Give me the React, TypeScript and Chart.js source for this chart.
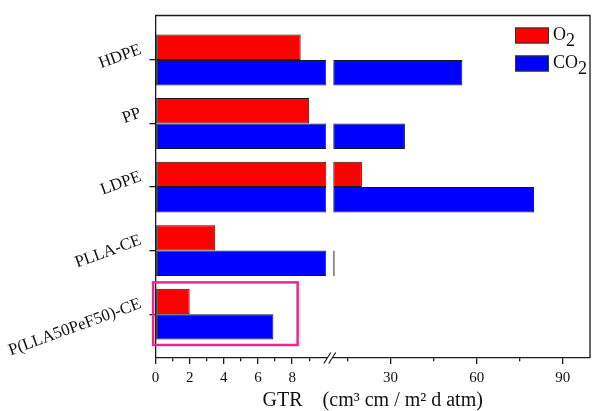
import React, { useEffect, useRef } from 'react';
import { Chart, registerables } from 'chart.js';

Chart.register(...registerables);

// ---- data ----
const categories = ['HDPE', 'PP', 'LDPE', 'PLLA-CE', 'P(LLA50PeF50)-CE'];
const seriesNames = ['O2', 'CO2'];
const o2Values = [8.5, 9.0, 20, 3.5, 2.0];
const co2Values = [55, 35, 80, 10.5, 6.9];
const seriesColors = ['#ff0000', '#0000ff'];
const breakValue = 10;
const lowMax = breakValue;
const highMax = 99.5;
const lowTicks = [0, 1, 2, 3, 4, 5, 6, 7, 8, 9];
const lowLabels = [0, 2, 4, 6, 8];
const highTicks = [15, 30, 45, 60, 75, 90];
const highLabels = [30, 60, 90];
const xTitle = 'GTR    (cm\u00B3 cm / m\u00B2 d atm)';
const highlightCategory = 'P(LLA50PeF50)-CE';
const highlightRange = [-0.14, 8.32];

const FONT = '"Liberation Serif", "Times New Roman", serif';
const INK = '#1a1a1a';

const lowPart = (v: number) => Math.min(v, breakValue);
const highPart = (v: number) => (v > breakValue ? [breakValue, v] : null);

const framePlugin = {
  id: 'frameAndExtras',
  afterDatasetsDraw(chart: any) {
    const { ctx, scales } = chart;
    ctx.save();
    const idx = categories.indexOf(highlightCategory);
    const x1 = scales.x1;
    const y = scales.y;
    const l = x1.getPixelForValue(highlightRange[0]);
    const r = x1.getPixelForValue(highlightRange[1]);
    const t = y.getPixelForValue(idx - 0.5);
    const b = y.getPixelForValue(idx + 0.485);
    ctx.strokeStyle = '#e8288a';
    ctx.lineWidth = 2.5;
    ctx.strokeRect(l, t, r - l, b - t);
    ctx.restore();
  },
  afterDraw(chart: any) {
    const { ctx, chartArea, scales } = chart;
    ctx.save();
    ctx.strokeStyle = INK;
    ctx.lineWidth = 1.3;
    ctx.beginPath();
    ctx.moveTo(chartArea.left, chartArea.top);
    ctx.lineTo(chartArea.right, chartArea.top);
    ctx.lineTo(chartArea.right, chartArea.bottom);
    ctx.stroke();
    const yb = chartArea.bottom;
    const c1 = scales.x1.right + 1;
    const c2 = scales.x2.left - 1;
    ctx.lineWidth = 1.2;
    [c1, c2].forEach((c) => {
      ctx.beginPath();
      ctx.moveTo(c - 3.5, yb + 5.5);
      ctx.lineTo(c + 3.5, yb - 5.5);
      ctx.stroke();
    });
    seriesNames.forEach((name, i) => {
      const bx = chartArea.right - 75;
      const by = chartArea.top + 12 + i * 28;
      ctx.fillStyle = seriesColors[i];
      ctx.fillRect(bx, by, 34, 16);
      ctx.strokeStyle = '#333';
      ctx.lineWidth = 1;
      ctx.strokeRect(bx + 0.5, by + 0.5, 33, 15);
      const m = name.match(/^(.*?)(\d+)$/);
      const base = m ? m[1] : name;
      const sub = m ? m[2] : '';
      ctx.font = `18px ${FONT}`;
      ctx.fillStyle = '#111';
      ctx.textAlign = 'left';
      ctx.textBaseline = 'alphabetic';
      const tx = bx + 38;
      const ty = by + 12;
      ctx.fillText(base, tx, ty);
      const w = ctx.measureText(base).width;
      ctx.fillText(sub, tx + w, ty + 6);
    });
    ctx.restore();
  },
};

export default function App() {
  const ref = useRef<HTMLCanvasElement>(null);
  useEffect(() => {
    document.body.style.margin = '0';
    const barStyle = { borderColor: INK, borderWidth: 1, borderSkipped: false as const };
    const chart = new Chart(ref.current!, {
      type: 'bar',
      data: {
        datasets: [
          {
            label: seriesNames[0], stack: 'o2', xAxisID: 'x1', yAxisID: 'y',
            data: o2Values.map((v, i) => ({ x: lowPart(v), y: i })) as any,
            backgroundColor: seriesColors[0], ...barStyle,
          },
          {
            label: seriesNames[1], stack: 'co2', xAxisID: 'x1', yAxisID: 'y',
            data: co2Values.map((v, i) => ({ x: lowPart(v), y: i })) as any,
            backgroundColor: seriesColors[1], ...barStyle,
          },
          {
            label: seriesNames[0], stack: 'o2', xAxisID: 'x2', yAxisID: 'y',
            data: o2Values.map((v, i) => ({ x: highPart(v), y: i })) as any,
            backgroundColor: seriesColors[0], ...barStyle,
          },
          {
            label: seriesNames[1], stack: 'co2', xAxisID: 'x2', yAxisID: 'y',
            data: co2Values.map((v, i) => ({ x: highPart(v), y: i })) as any,
            backgroundColor: seriesColors[1], ...barStyle,
          },
        ],
      },
      options: {
        responsive: false,
        animation: false,
        indexAxis: 'y',
        categoryPercentage: 0.8,
        barPercentage: 1.0,
        layout: { padding: { top: 15.5, right: 2, left: 0, bottom: 0 } },
        plugins: {
          legend: { display: false },
          tooltip: { enabled: false },
          title: {
            display: true,
            text: xTitle,
            position: 'bottom',
            fullSize: false,
            color: '#111',
            font: { family: FONT, size: 20, weight: 'normal', lineHeight: 1 },
            padding: { top: 0, bottom: 0 },
          },
        },
        scales: {
          x1: {
            type: 'linear', position: 'bottom', stack: 'x', stackWeight: 170.8, weight: 1,
            min: 0, max: lowMax, bounds: 'data', stacked: false, offset: false,
            afterBuildTicks: (s: any) => { s.ticks = lowTicks.map((v) => ({ value: v })); },
            afterFit: (s: any) => { s.height = 33; s.paddingLeft = 0; s.paddingRight = 0; },
            ticks: {
              autoSkip: false, maxRotation: 0, padding: 5, color: '#111',
              font: { family: FONT, size: 15 },
              callback: (v: any) => (lowLabels.includes(v) ? String(v) : ''),
            },
            grid: {
              offset: false, drawOnChartArea: false, color: INK, lineWidth: 1.3, tickLength: 6,
              tickBorderDash: (ctx: any) => (lowLabels.includes(ctx.tick?.value) ? [] : [3, 50]),
            },
            border: { color: INK, width: 1.3 },
          },
          xgap: {
            type: 'linear', position: 'bottom', stack: 'x', stackWeight: 6.9, weight: 2,
            ticks: { display: false }, grid: { display: false }, border: { display: false },
            afterFit: (s: any) => { s.height = 0; s.paddingLeft = 0; s.paddingRight = 0; },
          },
          x2: {
            type: 'linear', position: 'bottom', stack: 'x', stackWeight: 256.8, weight: 3,
            min: breakValue, max: highMax, bounds: 'data', stacked: false, offset: false,
            afterBuildTicks: (s: any) => { s.ticks = highTicks.map((v) => ({ value: v })); },
            afterFit: (s: any) => { s.height = 33; s.paddingLeft = 0; s.paddingRight = 0; },
            ticks: {
              autoSkip: false, maxRotation: 0, padding: 5, color: '#111',
              font: { family: FONT, size: 15 },
              callback: (v: any) => (highLabels.includes(v) ? String(v) : ''),
            },
            grid: {
              offset: false, drawOnChartArea: false, color: INK, lineWidth: 1.3, tickLength: 6,
              tickBorderDash: (ctx: any) => (highLabels.includes(ctx.tick?.value) ? [] : [3, 50]),
            },
            border: { color: INK, width: 1.3 },
          },
          y: {
            type: 'linear', position: 'left', reverse: true, offset: false,
            min: -0.7, max: 4.69, bounds: 'data',
            afterBuildTicks: (s: any) => { s.ticks = categories.map((_, i) => ({ value: i })); },
            afterFit: (s: any) => { s.width = 155.5; s.paddingTop = 0; s.paddingBottom = 0; },
            ticks: {
              autoSkip: false, minRotation: 20, maxRotation: 20, align: 'center', padding: 5,
              color: '#111', font: { family: FONT, size: 16.8, lineHeight: 1.36 },
              callback: (v: any) => [categories[v], ''],
            },
            grid: { offset: false, drawOnChartArea: false, color: INK, lineWidth: 1.3, tickLength: 6 },
            border: { color: INK, width: 1.3 },
          },
        },
      } as any,
      plugins: [framePlugin],
    });
    return () => chart.destroy();
  }, []);
  return (
    <div style={{ width: 592, height: 411 }}>
      <canvas ref={ref} width={592} height={411} />
    </div>
  );
}
